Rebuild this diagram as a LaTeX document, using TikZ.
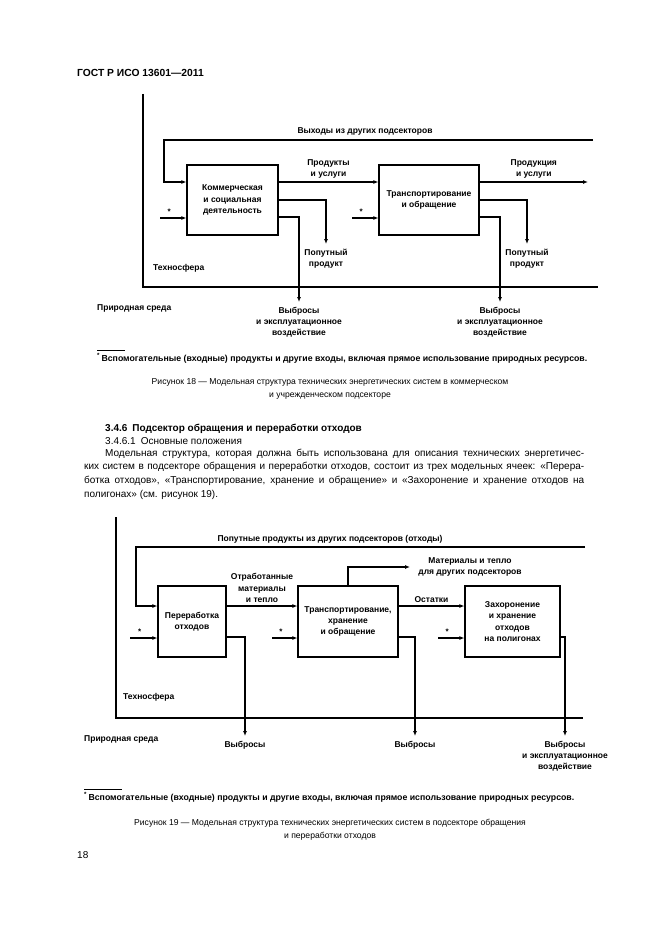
\documentclass[tikz,border=0pt]{standalone}
\usepackage{fontspec}
\setmainfont{Liberation Sans}
\usetikzlibrary{arrows.meta,positioning}

\tikzset{
  ramka/.style={line width=1.6pt},
  blok/.style={draw, line width=1.2pt, align=center, minimum height=71pt,
    font=\fontsize{8.5}{11.2}\selectfont\bfseries},
  strel/.style={line width=1.2pt, -{Latex[length=5pt,width=4pt]}},
  metka/.style={align=center, inner sep=1pt, font=\fontsize{8.5}{11.2}\selectfont\bfseries},
  zvezda/.style={inner sep=0pt, font=\fontsize{8}{8}\selectfont\bfseries},
  tekst/.style={anchor=base west, inner sep=0pt, font=\fontsize{10}{13.7}\selectfont},
  podpis/.style={align=center, inner sep=0pt, font=\fontsize{8.6}{13}\selectfont},
  snoska/.style={anchor=base west, inner sep=0pt, font=\fontsize{8.75}{10}\selectfont\bfseries}
}

\begin{document}
\begin{tikzpicture}[x=1pt, y=-1pt]
\useasboundingbox[fill=white] (0,0) rectangle (661,936);

% --- page header ---
\node[tekst, font=\fontsize{10.3}{12}\selectfont\bfseries] (gost) at (77,77) {ГОСТ Р ИСО 13601—2011};

% ================= Figure 18 =================
% technosphere boundary
\coordinate (t18) at (143,94);
\coordinate (c18) at (143,287);
\coordinate (r18) at (598,287);
\draw[ramka] (t18) -- (c18) -- (r18);

% model cells
\node[blok, minimum width=91pt, minimum height=70pt] (kom) at (232.5,200) {Коммерческая\\и социальная\\деятельность};
\node[blok, minimum width=100pt, minimum height=70pt] (trn) at (429,200) {Транспортирование\\и обращение};

% inputs from other subsectors
\coordinate (vh18) at (593,140);
\draw[strel] (vh18) -- (164,140) |- ([yshift=18pt]kom.west);
\node[metka] (vh18lab) at (365,131) {Выходы из других подсекторов};

% auxiliary inputs
\coordinate (zv1) at (160,218);
\draw[strel] (zv1) -- ([yshift=-18pt]kom.west) node[zvezda, pos=0.35, above=3pt] {*};
\coordinate (zv2) at (352,218);
\draw[strel] (zv2) -- ([yshift=-18pt]trn.west) node[zvezda, pos=0.35, above=3pt] {*};

% products and services
\draw[strel] ([yshift=18pt]kom.east) -- ([yshift=18pt]trn.west) node[metka, midway, above=2pt] {Продукты\\и услуги};
\coordinate (pu18) at (588,182);
\draw[strel] ([yshift=18pt]trn.east) -- (pu18) node[metka, midway, above=2pt] {Продукция\\и услуги};

% by-products
\coordinate (pp1) at (326,244);
\coordinate (pp2) at (527,244);
\draw[strel] (kom.east) -| (pp1);
\draw[strel] (trn.east) -| (pp2);
\node[metka, below=4pt of pp1] (pp1lab) {Попутный\\продукт};
\node[metka, below=4pt of pp2] (pp2lab) {Попутный\\продукт};

% emissions
\coordinate (vb1) at (299,302);
\coordinate (vb2) at (500,302);
\draw[strel] ([yshift=-17pt]kom.east) -| (vb1);
\draw[strel] ([yshift=-17pt]trn.east) -| (vb2);
\node[metka, below=4pt of vb1] (vb1lab) {Выбросы\\и эксплуатационное\\воздействие};
\node[metka, below=4pt of vb2] (vb2lab) {Выбросы\\и эксплуатационное\\воздействие};

\node[metka, anchor=west] (tehno18) at (152,268) {Техносфера};
\node[metka, anchor=west] (prir18) at (96,308) {Природная среда};

% footnote and caption
\draw[line width=0.8pt] (97,350) -- (125,350);
\node[snoska] (sn18) at (97,361) {\textsuperscript{*}\,Вспомогательные (входные) продукты и другие входы, включая прямое использование природных ресурсов.};
\node[podpis] (cap18) at (330,389) {Рисунок 18 — Модельная структура технических энергетических систем в коммерческом\\и учрежденческом подсекторе};

% ================= text =================
\node[tekst, font=\fontsize{10}{13.7}\selectfont\bfseries] (razd) at (105,431) {3.4.6\hspace{5pt}Подсектор обращения и переработки отходов};
\node[tekst] (podr) at (105,444) {3.4.6.1\hspace{5pt}Основные положения};
\node[anchor=north west, inner sep=0pt, text width=500pt, align=justify, font=\fontsize{10}{13.7}\selectfont] (abz) at (84,448.5)
  {\hspace*{21pt}Модельная структура, которая должна быть использована для описания технических энергетичес-\linebreak
   ких систем в подсекторе обращения и переработки отходов, состоит из трех модельных ячеек: «Перера-\linebreak
   ботка отходов», «Транспортирование, хранение и обращение» и «Захоронение и хранение отходов на\linebreak
   полигонах» (см. рисунок 19).};

% ================= Figure 19 =================
% technosphere boundary
\coordinate (t19) at (116,517);
\coordinate (c19) at (116,718);
\coordinate (r19) at (583,718);
\draw[ramka] (t19) -- (c19) -- (r19);

% model cells
\node[blok, minimum width=68pt] (per) at (192,621.5) {Переработка\\отходов};
\node[blok, minimum width=100pt] (trh) at (348,621.5) {Транспортирование,\\хранение\\и обращение};
\node[blok, minimum width=95pt] (zah) at (512.5,621.5) {Захоронение\\и хранение\\отходов\\на полигонах};

% by-products from other subsectors
\coordinate (vh19) at (585,547);
\draw[strel] (vh19) -- (136,547) |- ([yshift=15.5pt]per.west);
\node[metka] (vh19lab) at (330,539) {Попутные продукты из других подсекторов (отходы)};

% auxiliary inputs
\coordinate (zv3) at (130,638);
\coordinate (zv4) at (272,638);
\coordinate (zv5) at (438,638);
\draw[strel] (zv3) -- ([yshift=-16.5pt]per.west) node[zvezda, pos=0.35, above=3pt] {*};
\draw[strel] (zv4) -- ([yshift=-16.5pt]trh.west) node[zvezda, pos=0.35, above=3pt] {*};
\draw[strel] (zv5) -- ([yshift=-16.5pt]zah.west) node[zvezda, pos=0.35, above=3pt] {*};

% flows between cells
\draw[strel] ([yshift=15.5pt]per.east) -- ([yshift=15.5pt]trh.west) node[metka, midway, above=2pt] {Отработанные\\материалы\\и тепло};
\draw[strel] ([yshift=15.5pt]trh.east) -- ([yshift=15.5pt]zah.west) node[metka, midway, above=2pt] {Остатки};
\coordinate (mt) at (410,567);
\draw[strel] (trh.north) |- (mt);
\node[metka] (mtlab) at (470,567) {Материалы и тепло\\для других подсекторов};

% emissions
\coordinate (vb3) at (245,736);
\coordinate (vb4) at (415,736);
\coordinate (vb5) at (565,736);
\draw[strel] ([yshift=-15.5pt]per.east) -| (vb3);
\draw[strel] ([yshift=-15.5pt]trh.east) -| (vb4);
\draw[strel] ([yshift=-15.5pt]zah.east) -| (vb5);
\node[metka, below=4pt of vb3] (vb3lab) {Выбросы};
\node[metka, below=4pt of vb4] (vb4lab) {Выбросы};
\node[metka, below=4pt of vb5] (vb5lab) {Выбросы\\и эксплуатационное\\воздействие};

\node[metka, anchor=west] (tehno19) at (122,697) {Техносфера};
\node[metka, anchor=west] (prir19) at (83,739) {Природная среда};

% footnote and caption
\draw[line width=0.8pt] (84,789) -- (122,789);
\node[snoska] (sn19) at (84,800) {\textsuperscript{*}\,Вспомогательные (входные) продукты и другие входы, включая прямое использование природных ресурсов.};
\node[podpis] (cap19) at (330,829.5) {Рисунок 19 — Модельная структура технических энергетических систем в подсекторе обращения\\и переработки отходов};

% page number
\node[tekst] (str) at (77,858) {18};

\end{tikzpicture}
\end{document}
